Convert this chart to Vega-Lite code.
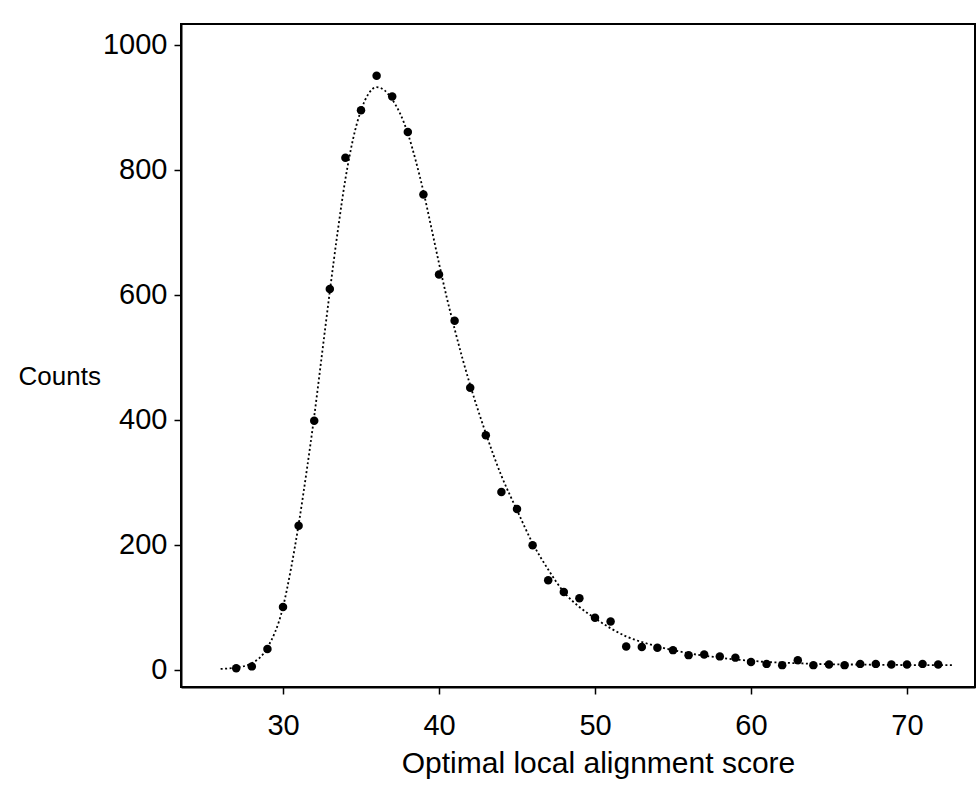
{
  "$schema": "https://vega.github.io/schema/vega-lite/v6.json",
  "autosize": {"type": "none"},
  "padding": {"left": 181, "top": 24, "right": 1, "bottom": 98},
  "width": 794,
  "height": 663,
  "background": "white",
  "config": {
    "view": {"stroke": "black", "strokeWidth": 2},
    "font": "Liberation Sans"
  },
  "datasets": {
    "points": [
      {"score": 27, "count": 2}, {"score": 28, "count": 5}, {"score": 29, "count": 33},
      {"score": 30, "count": 100}, {"score": 31, "count": 230}, {"score": 32, "count": 398},
      {"score": 33, "count": 609}, {"score": 34, "count": 819}, {"score": 35, "count": 895},
      {"score": 36, "count": 950}, {"score": 37, "count": 917}, {"score": 38, "count": 860},
      {"score": 39, "count": 760}, {"score": 40, "count": 632}, {"score": 41, "count": 558},
      {"score": 42, "count": 451}, {"score": 43, "count": 375}, {"score": 44, "count": 284},
      {"score": 45, "count": 257}, {"score": 46, "count": 199}, {"score": 47, "count": 143},
      {"score": 48, "count": 124}, {"score": 49, "count": 114}, {"score": 50, "count": 83},
      {"score": 51, "count": 77}, {"score": 52, "count": 37}, {"score": 53, "count": 36},
      {"score": 54, "count": 35}, {"score": 55, "count": 31}, {"score": 56, "count": 23},
      {"score": 57, "count": 24}, {"score": 58, "count": 21}, {"score": 59, "count": 19},
      {"score": 60, "count": 12}, {"score": 61, "count": 9}, {"score": 62, "count": 7},
      {"score": 63, "count": 15}, {"score": 64, "count": 7}, {"score": 65, "count": 8},
      {"score": 66, "count": 7}, {"score": 67, "count": 9}, {"score": 68, "count": 9},
      {"score": 69, "count": 8}, {"score": 70, "count": 8}, {"score": 71, "count": 9},
      {"score": 72, "count": 8}
    ],
    "fit": [
      {"score": 26, "count": 1}, {"score": 27, "count": 3}, {"score": 28, "count": 10},
      {"score": 29, "count": 35}, {"score": 30, "count": 100}, {"score": 30.5, "count": 160},
      {"score": 31, "count": 232}, {"score": 31.5, "count": 315}, {"score": 32, "count": 405},
      {"score": 32.5, "count": 505}, {"score": 33, "count": 605}, {"score": 33.5, "count": 700},
      {"score": 34, "count": 785}, {"score": 34.5, "count": 850}, {"score": 35, "count": 895},
      {"score": 35.5, "count": 922}, {"score": 36, "count": 932}, {"score": 36.5, "count": 927},
      {"score": 37, "count": 912}, {"score": 37.5, "count": 890}, {"score": 38, "count": 858},
      {"score": 38.5, "count": 815}, {"score": 39, "count": 765}, {"score": 39.5, "count": 708},
      {"score": 40, "count": 650}, {"score": 40.5, "count": 595}, {"score": 41, "count": 545},
      {"score": 41.5, "count": 498}, {"score": 42, "count": 455}, {"score": 43, "count": 378},
      {"score": 44, "count": 310}, {"score": 45, "count": 255}, {"score": 46, "count": 202},
      {"score": 47, "count": 160}, {"score": 48, "count": 124}, {"score": 49, "count": 100},
      {"score": 50, "count": 82}, {"score": 51, "count": 66}, {"score": 52, "count": 53},
      {"score": 53, "count": 44}, {"score": 54, "count": 37}, {"score": 55, "count": 31},
      {"score": 56, "count": 26}, {"score": 57, "count": 22}, {"score": 58, "count": 19},
      {"score": 59, "count": 16}, {"score": 60, "count": 14}, {"score": 61, "count": 12},
      {"score": 62, "count": 11}, {"score": 63, "count": 10}, {"score": 64, "count": 9},
      {"score": 65, "count": 8.5}, {"score": 66, "count": 8}, {"score": 67, "count": 8},
      {"score": 68, "count": 7.5}, {"score": 69, "count": 7.5}, {"score": 70, "count": 7},
      {"score": 71, "count": 7}, {"score": 72, "count": 7}, {"score": 73, "count": 7}
    ]
  },
  "encoding": {
    "x": {
      "field": "score", "type": "quantitative",
      "scale": {"domain": [23.46, 74.36], "nice": false, "zero": false},
      "axis": {
        "values": [30, 40, 50, 60, 70],
        "format": "d",
        "title": "Optimal local alignment score",
        "grid": false,
        "domainColor": "black", "domainWidth": 2,
        "tickColor": "black", "tickWidth": 1.5, "tickSize": 7,
        "labelFont": "Liberation Sans", "labelFontSize": 29, "labelColor": "black", "labelPadding": 17,
        "titleFont": "Liberation Sans", "titleFontSize": 30, "titleFontWeight": "normal", "titleColor": "black",
        "titleX": 417, "titleY": 85, "titleBaseline": "alphabetic", "titleAnchor": "middle", "titleAlign": "center"
      }
    },
    "y": {
      "field": "count", "type": "quantitative",
      "scale": {"domain": [-28, 1033], "nice": false, "zero": false},
      "axis": {
        "values": [0, 200, 400, 600, 800, 1000],
        "format": "d",
        "title": "Counts",
        "grid": false,
        "domainColor": "black", "domainWidth": 2,
        "tickColor": "black", "tickWidth": 1.5, "tickSize": 7,
        "labelFont": "Liberation Sans", "labelFontSize": 29, "labelColor": "black", "labelPadding": 7,
        "titleFont": "Liberation Sans", "titleFontSize": 26, "titleFontWeight": "normal", "titleColor": "black",
        "titleAngle": 0, "titleX": -163, "titleY": 352, "titleAlign": "left", "titleBaseline": "middle"
      }
    }
  },
  "layer": [
    {
      "data": {"name": "fit"},
      "mark": {"type": "line", "color": "black", "strokeWidth": 1.8, "strokeDash": [2, 2.5], "interpolate": "monotone"},
      "encoding": {}
    },
    {
      "data": {"name": "points"},
      "mark": {"type": "point", "filled": true, "color": "black", "size": 72, "opacity": 1},
      "encoding": {}
    }
  ]
}
